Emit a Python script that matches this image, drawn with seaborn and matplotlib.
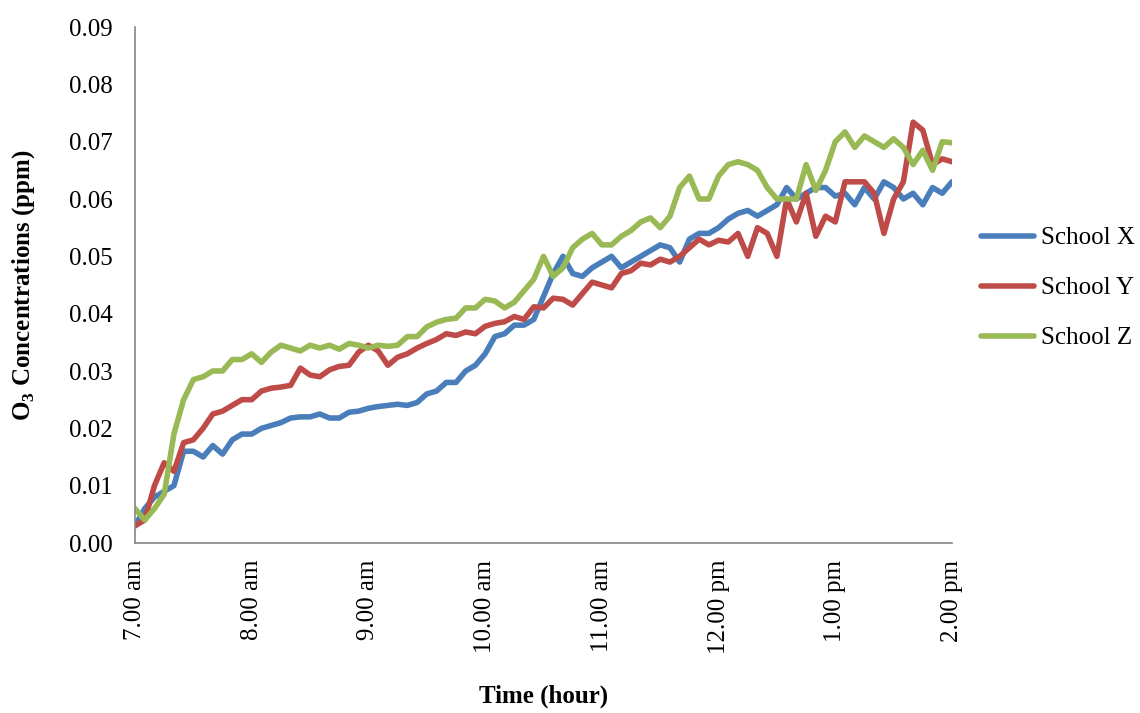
import matplotlib
matplotlib.use("Agg")
import matplotlib.pyplot as plt
import seaborn as sns
import pandas as pd

# Time in minutes after 7:00 am (5-minute readings)
minutes = list(range(0, 421, 5))

school_x = [0.003, 0.006, 0.008, 0.009, 0.010, 0.016, 0.016, 0.015, 0.017, 0.0155, 0.018, 0.019, 0.019, 0.020,
            0.0205, 0.021, 0.0218, 0.022, 0.022, 0.0225, 0.0218, 0.0218, 0.0228, 0.023, 0.0235, 0.0238, 0.024, 0.0242,
            0.024, 0.0245, 0.026, 0.0265, 0.028, 0.028, 0.030, 0.031, 0.033, 0.036, 0.0365, 0.038, 0.038,
            0.039, 0.043, 0.047, 0.050, 0.047, 0.0465, 0.048, 0.049, 0.050, 0.048, 0.049, 0.050, 0.051, 0.052,
            0.0515, 0.049, 0.053, 0.054, 0.054, 0.055, 0.0565, 0.0575, 0.058, 0.057, 0.058, 0.059, 0.062, 0.060, 0.061,
            0.062, 0.062, 0.0605, 0.061, 0.059, 0.062, 0.060, 0.063, 0.062, 0.060, 0.061, 0.059, 0.062, 0.061, 0.063]

school_y = [0.003, 0.004, 0.010, 0.014, 0.0125, 0.0175, 0.018, 0.020, 0.0225, 0.023, 0.024, 0.025, 0.025, 0.0265,
            0.027, 0.0272, 0.0275, 0.0305, 0.0293, 0.029, 0.0302, 0.0308, 0.031, 0.0333, 0.0345, 0.0335, 0.031, 0.0324,
            0.033, 0.034, 0.0348, 0.0355, 0.0365, 0.0362, 0.0368, 0.0365, 0.0378, 0.0383, 0.0386, 0.0395, 0.039,
            0.0412, 0.041, 0.0427, 0.0425, 0.0415, 0.0435, 0.0455, 0.045, 0.0445, 0.047, 0.0475, 0.0488, 0.0485, 0.0495,
            0.049, 0.050, 0.0515, 0.053, 0.052, 0.0528, 0.0525, 0.054, 0.050, 0.055, 0.054, 0.050, 0.060, 0.056, 0.061,
            0.0535, 0.057, 0.056, 0.063, 0.063, 0.063, 0.061, 0.054, 0.060, 0.063, 0.0734, 0.072, 0.066, 0.067, 0.0665]

school_z = [0.006, 0.004, 0.006, 0.0085, 0.019, 0.025, 0.0285, 0.029, 0.030, 0.030, 0.032, 0.032, 0.033, 0.0315,
            0.0333, 0.0345, 0.034, 0.0335, 0.0345, 0.034, 0.0345, 0.0338, 0.0348, 0.0345, 0.034, 0.0345, 0.0343, 0.0345,
            0.036, 0.036, 0.0377, 0.0385, 0.039, 0.0392, 0.041, 0.041, 0.0425, 0.0422, 0.041, 0.042, 0.044,
            0.046, 0.050, 0.0465, 0.048, 0.0515, 0.053, 0.054, 0.052, 0.052, 0.0535, 0.0545, 0.056, 0.0567, 0.055,
            0.057, 0.062, 0.064, 0.060, 0.060, 0.064, 0.066, 0.0665, 0.066, 0.065, 0.062, 0.060, 0.060, 0.060, 0.066,
            0.0615, 0.065, 0.070, 0.0717, 0.069, 0.071, 0.070, 0.069, 0.0705, 0.069, 0.066, 0.0685, 0.065, 0.070, 0.0698]

series_names = ["School X", "School Y", "School Z"]
colors = ["#4A7EBB", "#BE4B48", "#98B954"]

tick_minutes = [0, 60, 120, 180, 240, 300, 360, 420]
tick_labels = ["7.00 am", "8.00 am", "9.00 am", "10.00 am", "11.00 am", "12.00 pm", "1.00 pm", "2.00 pm"]
y_ticks = [0.00, 0.01, 0.02, 0.03, 0.04, 0.05, 0.06, 0.07, 0.08, 0.09]

df = pd.concat([
    pd.DataFrame({"minute": minutes, "ppm": vals, "School": name})
    for name, vals in zip(series_names, [school_x, school_y, school_z])
])

sns.set_theme(style="white")
plt.rcParams["font.family"] = ["Liberation Serif", "DejaVu Serif"]
plt.rcParams["mathtext.fontset"] = "custom"
plt.rcParams["mathtext.rm"] = "Liberation Serif"
plt.rcParams["mathtext.bf"] = "Liberation Serif:bold"
for key in ["text.color", "axes.labelcolor", "xtick.color", "ytick.color"]:
    plt.rcParams[key] = "black"

fig = plt.figure(figsize=(11.4, 7.13), dpi=100)
ax = fig.add_axes([135 / 1140, 1 - 543 / 713, 817 / 1140, 516 / 713])

sns.lineplot(data=df, x="minute", y="ppm", hue="School", palette=colors,
             linewidth=4, ax=ax, legend=True)

ax.set_xlim(0, 420)
ax.set_ylim(0, 0.09)
ax.set_xticks(tick_minutes)
ax.set_xticklabels(tick_labels, rotation=90, fontsize=18)
ax.set_yticks(y_ticks)
ax.set_yticklabels([f"{v:.2f}" for v in y_ticks], fontsize=18)
ax.tick_params(axis="both", length=0)
ax.tick_params(axis="y", pad=16)
ax.tick_params(axis="x", pad=12)

for side in ["top", "right"]:
    ax.spines[side].set_visible(False)
for side in ["left", "bottom"]:
    ax.spines[side].set_color("#868686")
    ax.spines[side].set_linewidth(1.2)

ax.set_xlabel("Time (hour)", fontsize=18, fontweight="bold")
ax.set_ylabel(r"O$_\mathbf{3}$ Concentrations (ppm)", fontsize=18, fontweight="bold")
ax.xaxis.set_label_coords(0.5, -0.275)
ax.yaxis.set_label_coords(-0.12, 0.5)

leg = ax.legend(loc="center left", bbox_to_anchor=(1.008, 0.494), frameon=False,
                fontsize=18, handlelength=2.1, handletextpad=0.3, labelspacing=1.1)
for line in leg.get_lines():
    line.set_linewidth(4)
    line.set_solid_capstyle("round")

fig.savefig("out.png", dpi=100)
